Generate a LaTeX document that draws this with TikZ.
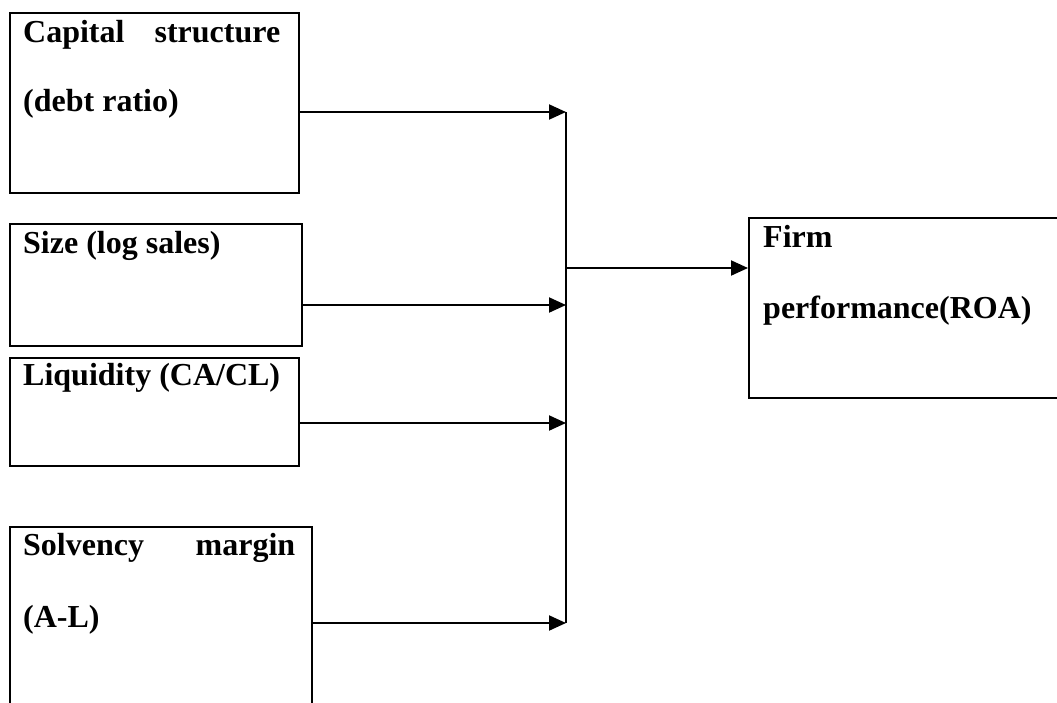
\documentclass[tikz,border=0pt]{standalone}
\usepackage{fontspec}
\setmainfont{Liberation Serif}
\usetikzlibrary{arrows.meta}

\begin{document}
\begin{tikzpicture}[x=1pt,y=-1pt,>={Triangle[length=17pt,width=15pt]},
	box/.style={draw,line width=2pt,anchor=north west,inner sep=0pt},
	txt/.style={anchor=base west,inner sep=0pt,font=\fontsize{32}{32}\selectfont\bfseries},
	link/.style={->,line width=2pt}]

	\path[use as bounding box,clip] (0,0) rectangle (1057,702);
	%\draw[gray,step=50] (0,0) grid (1057,702);

	\node[box,minimum width=289pt,minimum height=180pt] (capital) at (9,12) {};
	\node[box,minimum width=292pt,minimum height=122pt] (size) at (9,223) {};
	\node[box,minimum width=289pt,minimum height=108pt] (liquidity) at (9,357) {};
	\node[box,minimum width=302pt,minimum height=200pt] (solvency) at (9,526) {};
	\node[box,minimum width=330pt,minimum height=180pt] (firm) at (748,217) {};

	\node[txt] (capitaltop) at (23,42) {\hbox to 257pt{Capital\hfill structure}};
	\node[txt] (capitalbot) at (23,111) {(debt ratio)};
	\node[txt] (sizetxt) at (23,253) {Size (log sales)};
	\node[txt] (liqtxt) at (23,385) {Liquidity (CA/CL)};
	\node[txt] (solvtop) at (23,555) {\hbox to 272pt{Solvency\hfill margin}};
	\node[txt] (solvbot) at (23,627) {(A-L)};
	\node[txt] (firmtop) at (763,247) {Firm};
	\node[txt] (firmbot) at (763,318) {performance(ROA)};

	\coordinate (bus1) at (566,112);
	\coordinate (bus2) at (566,305);
	\coordinate (bus3) at (566,423);
	\coordinate (bus4) at (566,623);
	\coordinate (busout) at (566,268);

	\draw[line width=1.6pt] (bus1) -- (bus4);
	\draw[link] (capital.east |- bus1) -- (bus1);
	\draw[link] (size.east |- bus2) -- (bus2);
	\draw[link] (liquidity.east |- bus3) -- (bus3);
	\draw[link] (solvency.east |- bus4) -- (bus4);
	\draw[link] (busout) -- (firm.west |- busout);
\end{tikzpicture}
\end{document}
